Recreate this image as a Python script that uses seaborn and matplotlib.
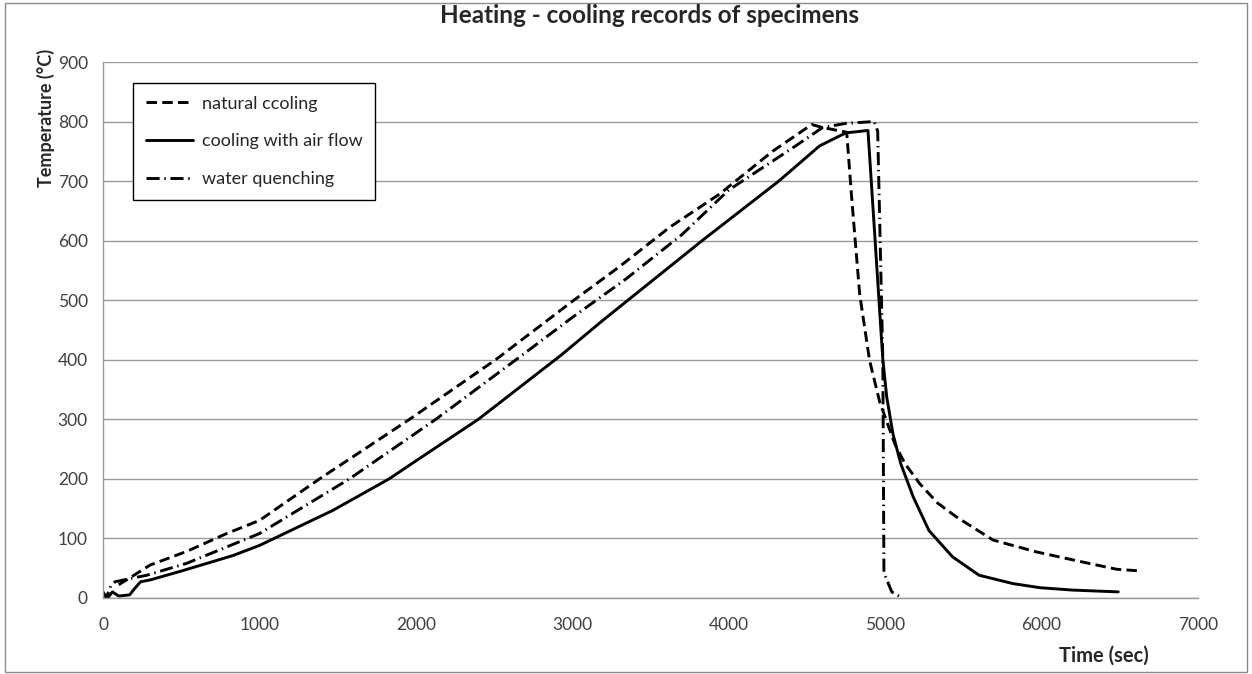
import numpy as np
import pandas as pd
import seaborn as sns
import matplotlib.pyplot as plt
from matplotlib.patches import Rectangle

# values (time in sec, temperature in C)
natural_t = [100, 150, 300, 535, 790, 1000, 1385, 1960, 2510, 3000, 3300, 3620, 3940, 4280,
             4530, 4600, 4754, 4784, 4805, 4837, 4900, 4965, 5061, 5125, 5220, 5336, 5455,
             5690, 5969, 6300, 6480, 6640]
natural_T = [22, 30, 55, 78, 108, 130, 200, 300, 400, 498, 556, 622, 678, 750,
             795, 790, 782, 678, 611, 510, 399, 329, 259, 226, 192, 159, 136,
             97, 77, 58, 48, 45]

air_t = [0, 30, 60, 100, 170, 200, 240, 300, 500, 830, 1000, 1470, 1830, 2000, 2400, 2930,
         3190, 3830, 4320, 4580, 4710, 4750, 4890, 4985, 5010, 5050, 5100, 5180, 5280,
         5430, 5600, 5815, 5990, 6200, 6490]
air_T = [8, 0, 10, 3, 5, 15, 27, 30, 45, 71, 88, 147, 200, 230, 300, 408,
         465, 600, 700, 759, 776, 781, 785, 400, 337, 275, 225, 169, 113,
         69, 38, 24, 17, 13, 10]

water_t = [0, 20, 50, 77, 280, 535, 1000, 1576, 2128, 2640, 3000, 3340, 3700, 4000, 4410,
           4600, 4750, 4930, 4952, 4985, 4992, 5042, 5100]
water_T = [10, 0, 20, 27, 38, 58, 108, 200, 300, 400, 471, 535, 610, 685, 756,
           790, 797, 800, 784, 399, 42, 10, 1]

labels = ['natural ccoling', 'cooling with air flow', 'water quenching']

sns.set_style('white')
plt.rcParams['font.family'] = ['Lato', 'DejaVu Sans']

fig = plt.figure(figsize=(12.52, 6.74), dpi=100)
ax = fig.add_axes([0.0823, 0.113, 0.8746, 0.795])

series = [(natural_t, natural_T, (3.6, 1.8)),
          (air_t, air_T, None),
          (water_t, water_T, (4.5, 1.6, 0.5, 1.6))]
for (t, T, dash), lab in zip(series, labels):
    sns.lineplot(x=t, y=T, ax=ax, color='black', lw=2.1, label=lab, estimator=None, sort=False)
    if dash is not None:
        ax.lines[-1].set_dashes(dash)

ax.set_xlim(0, 7000)
ax.set_ylim(0, 900)
ax.set_xticks(np.arange(0, 7001, 1000))
ax.set_yticks(np.arange(0, 901, 100))
ax.yaxis.grid(True, color='#9a9a9a', lw=1)
ax.xaxis.grid(False)
sns.despine(ax=ax)
for s in ['left', 'bottom']:
    ax.spines[s].set_color('#9a9a9a')
    ax.spines[s].set_linewidth(1)
ax.tick_params(axis='both', direction='out', length=5, width=1, color='#9a9a9a',
               labelsize=12.5, labelcolor='#404040')
ax.tick_params(axis='y', pad=6)
ax.tick_params(axis='x', pad=9)

ax.set_ylabel('Temperature (°C)', fontsize=13, fontweight='bold')
ax.yaxis.set_label_coords(-0.044, 0.895)
ax.set_xlabel('Time (sec)', fontsize=14.5, fontweight='bold')
ax.xaxis.set_label_coords(0.914, -0.09)

fig.text(0.519, 0.977, 'Heating - cooling records of specimens', ha='center', va='center',
         fontsize=17.5, fontweight='bold')

leg = ax.legend(loc='upper left', bbox_to_anchor=(0.0274, 0.961), borderaxespad=0,
                fancybox=False, framealpha=1, edgecolor='black', fontsize=13,
                handlelength=2.6, labelspacing=1.2, borderpad=0.7, handletextpad=0.5)
leg.get_frame().set_linewidth(1)

# chart area border
fig.patches.append(Rectangle((5 / 1252, 2 / 674), 1242 / 1252, 669 / 674, transform=fig.transFigure,
                             fill=False, edgecolor='#8a8a8a', lw=1))

fig.savefig('out.png', dpi=100)
